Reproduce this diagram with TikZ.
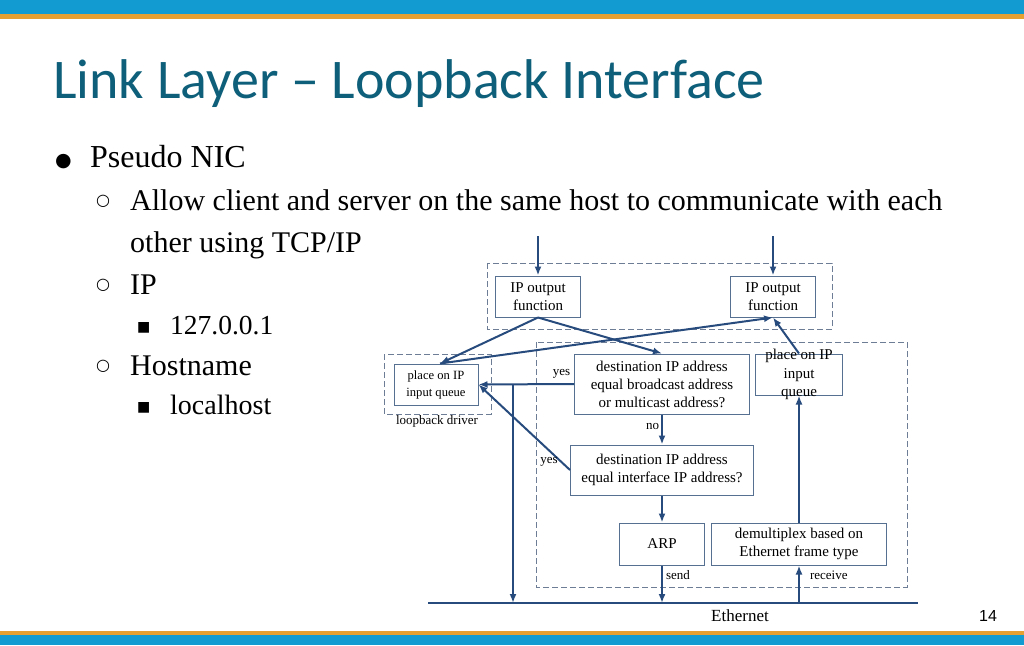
\documentclass[tikz,border=0pt]{standalone}
\usepackage{fontspec}
\setmainfont{Liberation Serif}
\newfontfamily\titlefont{Carlito}
\newfontfamily\symfont{DejaVu Sans}
\newfontfamily\pagefont{Liberation Sans}
\usetikzlibrary{arrows.meta,positioning,calc}

\definecolor{bandblue}{RGB}{17,155,208}
\definecolor{bandorange}{RGB}{230,160,50}
\definecolor{titlec}{RGB}{14,95,122}
\definecolor{linec}{RGB}{40,75,125}
\definecolor{boxc}{RGB}{85,112,145}
\definecolor{dashc}{RGB}{110,125,150}

\tikzset{
  box/.style={draw=boxc, line width=1pt, fill=white, align=center, inner sep=1pt,
    font=\fontsize{15}{18}\selectfont},
  grp/.style={draw=dashc, line width=1pt, dash pattern=on 6pt off 3pt},
  arr/.style={draw=linec, line width=2pt, -{Latex[length=9pt,width=7pt]}},
  lbl/.style={font=\fontsize{13}{14}\selectfont, inner sep=0pt},
  item/.style={anchor=base west, inner sep=0pt, font=\fontsize{30}{34}\selectfont},
  mark1/.style={anchor=base west, inner sep=0pt, font=\symfont\fontsize{#1}{#1}\selectfont},
}

\begin{document}
\begin{tikzpicture}[x=1pt,y=-1pt]
    \useasboundingbox (0,0) rectangle (1024,645);
    % bands
    \fill[bandblue] (0,0) rectangle (1024,14);
    \fill[bandorange] (0,14) rectangle (1024,19);
    \fill[bandorange] (0,631) rectangle (1024,635);
    \fill[bandblue] (0,635) rectangle (1024,645);

    \node[anchor=base west, inner sep=0pt, text=titlec, font=\titlefont\fontsize{56}{60}\selectfont] (title) at (53,98) {Link Layer – Loopback Interface};

    % bullet list
    \node[mark1=19] (b1) at (55,166) {●};
    \node[item, font=\fontsize{32}{36}\selectfont] (t1) at (90,167) {Pseudo NIC};
    \node[mark1=16] (b2) at (96,205) {○};
    \node[item] (t2) at (130,210) {Allow client and server on the same host to communicate with each};
    \node[item] (t3) at (130,252) {other using TCP/IP};
    \node[mark1=16] (b3) at (96,289) {○};
    \node[item] (t4) at (130,294) {IP};
    \node[mark1=14] (b4) at (137,331) {■};
    \node[item, font=\fontsize{27.5}{30}\selectfont] (t5) at (170,334) {127.0.0.1};
    \node[mark1=16] (b5) at (96,370) {○};
    \node[item] (t6) at (130,375) {Hostname};
    \node[mark1=14] (b6) at (137,411) {■};
    \node[item, font=\fontsize{28}{30}\selectfont] (t7) at (170,414) {localhost};

    \node[anchor=base, inner sep=0pt, font=\pagefont\fontsize{16}{18}\selectfont] (page) at (988,621) {14};

    % dashed groups
    \draw[grp] (487,263) rectangle (832,329);
    \draw[grp] (384,354) rectangle (491,414);
    \draw[grp] (536,342) rectangle (907,587);

    % boxes
    \node[box, minimum width=85, minimum height=41] (ipoL) at (538,296.5) {IP output\\function};
    \node[box, minimum width=85, minimum height=41] (ipoR) at (773,296.5) {IP output\\function};
    \node[box, minimum width=84, minimum height=41, font=\fontsize{12.6}{17}\selectfont] (qL) at (436,384.5) {place on IP\\input queue};
    \node[box, minimum width=175, minimum height=60] (dst1) at (662,384) {destination IP address\\equal broadcast address\\or multicast address?};
    \node[box, minimum width=87, minimum height=41] (qR) at (799,374.5) {};
    \node[align=center, inner sep=0pt, font=\fontsize{15}{18.5}\selectfont] (qRtext) at (qR) {place on IP\\input\\queue};
    \node[box, minimum width=183, minimum height=50] (dst2) at (662,470) {destination IP address\\equal interface IP address?};
    \node[box, minimum width=85, minimum height=42] (arp) at (662,544) {ARP};
    \node[box, minimum width=175, minimum height=42] (demux) at (799,544) {demultiplex based on\\Ethernet frame type};

    \node[lbl] (lbdrv) at (437,421) {loopback driver};

    % ethernet
    \coordinate (ethL) at (428,603);
    \coordinate (ethR) at (918,603);
    \draw[linec, line width=2.6pt] (ethL) -- (ethR);
    \node[font=\fontsize{17}{18}\selectfont] (eth) at (740,616) {Ethernet};

    \coordinate (in1) at (538,236);
    \coordinate (in2) at (773,236);
    \coordinate (tap) at (513,384);

    % connectors
    \draw[arr] (in1) -- (ipoL);
    \draw[arr] (in2) -- (ipoR);
    \draw[arr] (ipoL.south) -- ([xshift=4pt]qL.north);
    \draw[arr] (ipoL.south) -- (dst1.north);
    \draw[arr] ([xshift=4pt]qL.north) -- (ipoR.south);
    \draw[arr] (qR.north) -- (ipoR.south);
    \draw[arr] (dst1.west) -- node[lbl, above=5pt, pos=0.13] {yes} (qL.east);
    \draw[arr] (tap) -- (tap |- ethL);
    \draw[arr] (dst1.south) -- node[lbl, left=2pt, pos=0.4] {no} (dst2.north);
    \draw[arr] (dst2.west) -- (qL.east);
    \node[lbl] (yes2) at (549,462) {yes};
    \draw[arr] (dst2.south) -- (arp.north);
    \draw[arr] (arp.south) -- node[lbl, right=3pt, pos=0.25] {send} (arp.south |- ethL);
    \draw[arr] (demux.south |- ethL) -- node[lbl, right=10pt, pos=0.75] {receive} (demux.south);
    \draw[arr] (demux.north) -- (qR.south);
\end{tikzpicture}
\end{document}
